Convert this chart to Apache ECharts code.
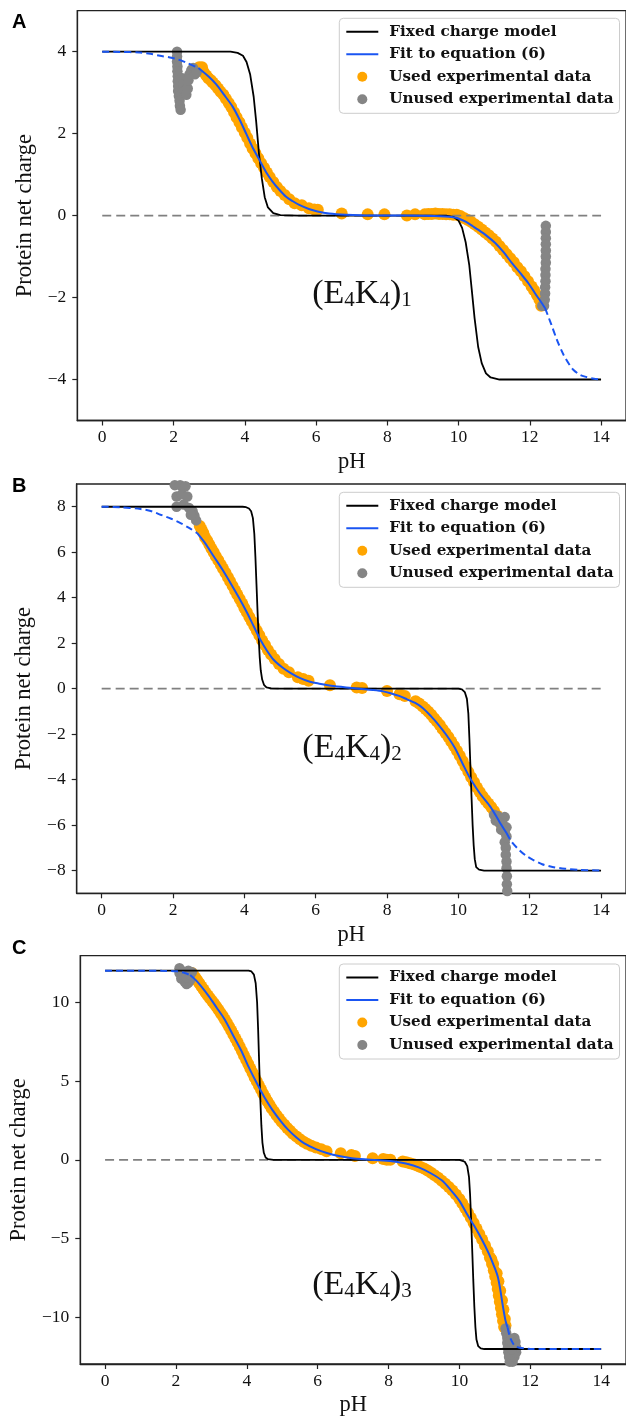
<!DOCTYPE html>
<html><head><meta charset="utf-8">
<script src="https://cdn.jsdelivr.net/npm/echarts@6/dist/echarts.min.js"></script>
<style>html,body{margin:0;padding:0;background:#fff}#c{width:626px;height:1418px}</style>
</head><body><div id="c"></div>
<script>
// ---------------- DATA ----------------
const xTicks = [0, 2, 4, 6, 8, 10, 12, 14];
const yTicksA = [-4, -2, 0, 2, 4];
const yTicksB = [-8, -6, -4, -2, 0, 2, 4, 6, 8];
const yTicksC = [-10, -5, 0, 5, 10];
const legendNames = ['Fixed charge model', 'Fit to equation (6)', 'Used experimental data', 'Unused experimental data'];
const panelLetters = ['A', 'B', 'C'];
const subscripts = ['1', '2', '3'];
const zeroLine = [[0, 0], [14, 0]];

// Panel A: (E4K4)1
const fixedA = [[0,4],[3.6,4],[3.8,3.97],[3.95,3.9],[4.05,3.75],[4.15,3.45],[4.25,2.9],[4.32,2.3],[4.4,1.5],[4.48,0.9],[4.56,0.45],[4.65,0.2],[4.8,0.06],[5.0,0.01],[5.5,0],[9.65,0],[9.85,-0.03],[10.0,-0.12],[10.1,-0.3],[10.2,-0.65],[10.3,-1.2],[10.37,-1.8],[10.45,-2.5],[10.55,-3.2],[10.65,-3.6],[10.77,-3.85],[10.9,-3.95],[11.15,-4],[14,-4]];
const fitSolidA = [[2.7,3.6],[3.0,3.38],[3.2,3.2],[3.4,2.97],[3.66,2.66],[3.85,2.35],[4.04,2.0],[4.2,1.7],[4.41,1.36],[4.6,1.06],[4.78,0.83],[4.97,0.63],[5.16,0.46],[5.35,0.35],[5.53,0.26],[5.8,0.16],[6.04,0.1],[6.37,0.05],[6.83,0.02],[7.5,0.0],[8.5,0.0],[9.3,-0.01],[9.63,-0.02],[9.85,-0.04],[10.0,-0.07],[10.2,-0.15],[10.4,-0.26],[10.56,-0.35],[10.8,-0.5],[11.03,-0.67],[11.27,-0.9],[11.5,-1.16],[11.73,-1.4],[11.96,-1.65],[12.15,-1.9],[12.34,-2.14],[12.43,-2.26]];
const fitDashLA = [[0,4],[0.5,3.995],[1.05,3.98],[1.35,3.95],[1.62,3.9],[1.9,3.86],[2.13,3.81],[2.4,3.72],[2.7,3.6]];
const fitDashRA = [[12.43,-2.26],[12.6,-2.65],[12.77,-3.05],[12.95,-3.4],[13.1,-3.62],[13.22,-3.76],[13.4,-3.88],[13.55,-3.93],[13.8,-3.98],[14,-4.0]];
const usedA = [[2.72,3.62],[2.78,3.55],[2.8,3.62],[2.85,3.5],[2.92,3.42],[2.98,3.35],[3.05,3.3],[3.1,3.25],[3.18,3.18],[3.25,3.1],[3.32,3.02],[3.4,2.95],[3.47,2.85],[3.55,2.75],[3.62,2.65],[3.7,2.52],[3.77,2.4],[3.85,2.28],[3.92,2.15],[4.0,2.02],[4.07,1.9],[4.15,1.76],[4.22,1.64],[4.3,1.52],[4.38,1.4],[4.46,1.28],[4.54,1.17],[4.62,1.05],[4.7,0.94],[4.8,0.82],[4.9,0.7],[5.0,0.6],[5.12,0.5],[5.25,0.4],[5.4,0.3],[5.6,0.25],[5.8,0.18],[5.95,0.15],[6.05,0.14],[6.72,0.05],[7.45,0.03],[7.92,0.03],[8.55,0.0],[8.78,0.03],[9.05,0.03],[9.15,0.04],[9.25,0.04],[9.35,0.05],[9.45,0.04],[9.55,0.04],[9.65,0.03],[9.75,0.03],[9.85,0.02],[9.95,0.02],[10.05,-0.01],[10.15,-0.06],[10.25,-0.1],[10.35,-0.15],[10.45,-0.21],[10.55,-0.27],[10.65,-0.34],[10.75,-0.41],[10.85,-0.48],[10.95,-0.56],[11.05,-0.64],[11.15,-0.74],[11.25,-0.84],[11.35,-0.94],[11.45,-1.04],[11.55,-1.14],[11.65,-1.26],[11.75,-1.36],[11.85,-1.48],[11.95,-1.6],[12.05,-1.73],[12.12,-1.82],[12.2,-1.94],[12.27,-2.05],[12.32,-2.2]];
const unusedA = [[2.1,4.0],[2.1,3.88],[2.1,3.76],[2.11,3.64],[2.11,3.52],[2.12,3.4],[2.12,3.28],[2.13,3.16],[2.13,3.04],[2.15,2.92],[2.17,2.8],[2.18,2.68],[2.2,2.58],[2.25,3.35],[2.28,3.2],[2.32,3.05],[2.36,2.95],[2.4,3.1],[2.42,3.3],[2.45,3.45],[2.5,3.55],[2.55,3.6],[2.6,3.45],[2.65,3.5],[12.45,-0.25],[12.45,-0.4],[12.45,-0.55],[12.45,-0.7],[12.45,-0.85],[12.45,-1.0],[12.45,-1.15],[12.44,-1.3],[12.44,-1.45],[12.44,-1.6],[12.43,-1.75],[12.43,-1.9],[12.42,-2.05],[12.4,-2.2],[12.35,-2.2]];

// Panel B: (E4K4)2
const fixedB = [[0,8],[3.95,8],[4.05,7.98],[4.13,7.92],[4.19,7.8],[4.24,7.5],[4.28,6.8],[4.31,5.8],[4.34,4.6],[4.37,3.4],[4.4,2.3],[4.43,1.4],[4.46,0.8],[4.5,0.4],[4.55,0.17],[4.62,0.06],[4.75,0.01],[5,0],[10.0,0],[10.1,-0.03],[10.18,-0.15],[10.24,-0.45],[10.28,-1.1],[10.31,-2.2],[10.34,-3.5],[10.37,-4.8],[10.4,-6.0],[10.43,-6.9],[10.46,-7.5],[10.5,-7.85],[10.58,-7.96],[10.72,-8],[14,-8]];
const fitSolidB = [[2.68,6.84],[2.9,6.4],[3.14,5.82],[3.38,5.25],[3.61,4.65],[3.85,4.0],[4.08,3.33],[4.27,2.72],[4.45,2.15],[4.63,1.68],[4.82,1.27],[5.05,0.95],[5.29,0.69],[5.55,0.47],[5.84,0.3],[6.1,0.22],[6.5,0.12],[7.22,0.0],[7.6,-0.06],[7.89,-0.12],[8.1,-0.2],[8.34,-0.32],[8.55,-0.46],[8.79,-0.63],[9.0,-0.85],[9.23,-1.21],[9.45,-1.6],[9.68,-2.07],[9.9,-2.6],[10.12,-3.3],[10.35,-4.0],[10.6,-4.6],[10.9,-5.2],[11.15,-5.85],[11.35,-6.35]];
const fitDashLB = [[0,8],[0.5,7.98],[1.09,7.9],[1.4,7.8],[1.65,7.65],[1.95,7.47],[2.21,7.28],[2.45,7.07],[2.68,6.84]];
const fitDashRB = [[11.35,-6.35],[11.5,-6.75],[11.71,-7.1],[11.9,-7.35],[12.08,-7.52],[12.35,-7.72],[12.64,-7.84],[13.0,-7.92],[13.4,-7.97],[14,-8]];
const usedB = [[2.75,7.15],[2.8,7.0],[2.85,6.85],[2.9,6.65],[2.96,6.5],[3.02,6.33],[3.08,6.15],[3.14,6.0],[3.2,5.82],[3.27,5.65],[3.34,5.45],[3.4,5.28],[3.47,5.1],[3.54,4.9],[3.6,4.72],[3.67,4.52],[3.74,4.32],[3.8,4.14],[3.87,3.94],[3.94,3.75],[4.0,3.55],[4.07,3.36],[4.14,3.15],[4.21,2.95],[4.28,2.75],[4.35,2.55],[4.42,2.35],[4.5,2.12],[4.58,1.92],[4.66,1.7],[4.75,1.5],[4.85,1.3],[4.97,1.08],[5.1,0.88],[5.25,0.72],[5.5,0.5],[5.65,0.42],[5.8,0.35],[6.4,0.15],[7.15,0.05],[7.3,0.03],[8.0,-0.1],[8.35,-0.25],[8.5,-0.32],[8.8,-0.55],[8.9,-0.65],[9.0,-0.78],[9.08,-0.9],[9.16,-1.02],[9.24,-1.15],[9.32,-1.3],[9.4,-1.45],[9.48,-1.6],[9.56,-1.78],[9.64,-1.95],[9.72,-2.13],[9.8,-2.32],[9.88,-2.52],[9.96,-2.73],[10.04,-2.95],[10.12,-3.18],[10.2,-3.42],[10.28,-3.66],[10.36,-3.9],[10.44,-4.12],[10.52,-4.35],[10.6,-4.55],[10.68,-4.73],[10.76,-4.9],[10.84,-5.05],[10.92,-5.2],[11.0,-5.38],[11.08,-5.58],[11.15,-5.78],[11.2,-5.95]];
const unusedB = [[2.05,8.95],[2.2,8.95],[2.35,8.9],[2.1,8.45],[2.25,8.55],[2.4,8.45],[2.1,8.0],[2.3,8.1],[2.45,7.95],[2.55,7.8],[2.6,7.6],[2.65,7.4],[2.5,7.65],[11.0,-5.55],[11.1,-5.6],[11.2,-5.7],[11.3,-5.65],[11.05,-5.8],[11.15,-5.9],[11.25,-6.0],[11.35,-6.1],[11.2,-6.2],[11.3,-6.3],[11.35,-6.5],[11.3,-6.75],[11.33,-7.0],[11.33,-7.3],[11.35,-7.6],[11.35,-7.9],[11.36,-8.25],[11.36,-8.6],[11.37,-8.9]];

// Panel C: (E4K4)3
const fixedC = [[0,12],[4.05,12],[4.13,11.95],[4.2,11.75],[4.25,11.2],[4.29,10.0],[4.32,8.2],[4.35,6.0],[4.38,3.9],[4.41,2.2],[4.44,1.1],[4.48,0.45],[4.53,0.15],[4.6,0.04],[4.75,0],[10.0,0],[10.05,-0.02],[10.15,-0.12],[10.22,-0.4],[10.27,-1.1],[10.3,-2.2],[10.33,-3.8],[10.36,-5.7],[10.39,-7.6],[10.42,-9.3],[10.45,-10.6],[10.48,-11.4],[10.53,-11.82],[10.6,-11.96],[10.7,-12],[14,-12]];
const fitSolidC = [[2.4,11.72],[2.6,11.3],[2.93,10.37],[3.15,9.65],[3.38,8.89],[3.6,7.95],[3.83,6.98],[4.05,5.9],[4.28,4.87],[4.5,3.95],[4.72,3.17],[4.95,2.48],[5.17,1.9],[5.4,1.42],[5.61,1.06],[5.95,0.68],[6.28,0.42],[6.6,0.24],[6.96,0.1],[7.4,0.02],[7.85,-0.04],[8.2,-0.12],[8.52,-0.25],[8.85,-0.48],[9.19,-0.85],[9.5,-1.3],[9.75,-1.9],[10.0,-2.6],[10.2,-3.39],[10.42,-4.2],[10.64,-5.08],[10.82,-5.9],[10.98,-6.77],[11.08,-7.4],[11.15,-8.2],[11.22,-9.2],[11.3,-10.2],[11.36,-10.65]];
const fitDashLC = [[0,12],[1.0,12],[1.6,11.99],[2.03,11.96],[2.25,11.85],[2.4,11.72]];
const fitDashRC = [[11.36,-10.65],[11.42,-11.2],[11.5,-11.6],[11.58,-11.82],[11.7,-11.92],[11.9,-11.97],[12.05,-12],[14,-12]];
const usedC = [[2.45,11.85],[2.5,11.7],[2.55,11.55],[2.6,11.4],[2.66,11.2],[2.72,11.0],[2.78,10.8],[2.84,10.6],[2.9,10.42],[2.96,10.25],[3.02,10.08],[3.08,9.9],[3.14,9.72],[3.2,9.52],[3.26,9.32],[3.32,9.12],[3.38,8.9],[3.44,8.68],[3.5,8.45],[3.56,8.2],[3.62,7.95],[3.68,7.7],[3.74,7.44],[3.8,7.18],[3.86,6.9],[3.92,6.62],[3.98,6.35],[4.04,6.08],[4.1,5.8],[4.16,5.52],[4.22,5.24],[4.28,4.98],[4.34,4.72],[4.4,4.46],[4.46,4.2],[4.52,3.95],[4.58,3.72],[4.64,3.5],[4.7,3.28],[4.77,3.05],[4.84,2.83],[4.91,2.62],[4.98,2.42],[5.06,2.22],[5.14,2.02],[5.22,1.84],[5.3,1.66],[5.4,1.48],[5.5,1.3],[5.6,1.15],[5.7,1.02],[5.82,0.9],[5.95,0.78],[6.1,0.68],[6.25,0.55],[6.65,0.42],[6.95,0.3],[7.05,0.25],[7.55,0.1],[7.85,0.05],[7.95,0.0],[8.05,0.0],[8.4,-0.1],[8.5,-0.15],[8.6,-0.22],[8.7,-0.28],[8.8,-0.36],[8.9,-0.45],[9.0,-0.55],[9.1,-0.68],[9.2,-0.82],[9.3,-0.98],[9.4,-1.14],[9.5,-1.32],[9.6,-1.52],[9.7,-1.72],[9.8,-1.95],[9.9,-2.2],[10.0,-2.48],[10.08,-2.75],[10.16,-3.05],[10.24,-3.35],[10.32,-3.68],[10.4,-4.0],[10.48,-4.35],[10.56,-4.7],[10.64,-5.05],[10.72,-5.42],[10.8,-5.8],[10.86,-6.2],[10.9,-6.3],[10.92,-6.6],[10.95,-6.6],[10.97,-7.0],[11.01,-7.4],[11.05,-7.2],[11.05,-7.8],[11.08,-8.2],[11.1,-7.7],[11.11,-8.6],[11.14,-9.0],[11.15,-8.3],[11.17,-9.4],[11.2,-9.8],[11.2,-8.9],[11.23,-10.2],[11.24,-9.5],[11.26,-10.6],[11.28,-10.1],[11.3,-10.5]];
const unusedC = [[2.1,12.15],[2.15,12.0],[2.1,11.85],[2.2,11.7],[2.15,11.5],[2.25,11.3],[2.3,11.15],[2.35,11.25],[2.4,11.4],[2.3,11.6],[2.4,11.75],[2.45,11.9],[2.35,12.0],[11.3,-10.7],[11.32,-11.0],[11.35,-11.3],[11.35,-11.6],[11.37,-11.9],[11.38,-12.2],[11.4,-12.5],[11.42,-12.8],[11.5,-12.8],[11.55,-12.5],[11.6,-12.2],[11.6,-11.9],[11.58,-11.55],[11.55,-11.3],[11.48,-12.0],[11.45,-11.5]];

// annotation anchors (data coords, centre of label)
const annotPos = [[7.29, -1.91], [7.02, -2.61], [7.25, -7.94]];

// ---------------- LAYOUT ----------------
const BLUE = '#1a55f2';
const AX = '#222';
const panels = [
  { grid: {left: 77.3, top: 10.7, width: 550.5, height: 409.8}, yMin: -5, yMax: 5, yTicks: yTicksA, nameGap: 41, legendTop: 18.3,
    fixed: fixedA, solid: fitSolidA, dl: fitDashLA, dr: fitDashRA, used: usedA, unused: unusedA, letterY: 22 },
  { grid: {left: 76.7, top: 484, width: 550.5, height: 409.3}, yMin: -9, yMax: 9, yTicks: yTicksB, nameGap: 41, legendTop: 492.3,
    fixed: fixedB, solid: fitSolidB, dl: fitDashLB, dr: fitDashRB, used: usedB, unused: unusedB, letterY: 486 },
  { grid: {left: 78, top: 955.7, width: 550, height: 408.3}, yMin: -12.95, yMax: 12.95, yTicks: yTicksC, nameGap: 48, legendTop: 964,
    fixed: fixedC, solid: fitSolidC, dl: fitDashLC, dr: fitDashRC, used: usedC, unused: unusedC, letterY: 948 }
];

const fmt = v => (v < 0 ? '\u2212' + (-v) : String(v));
const tickFont = {fontFamily: 'Liberation Serif', fontSize: 17.5, color: '#111'};
const nameFont = {fontFamily: 'Liberation Serif', fontSize: 22.5, color: '#111'};
const hiddenSym = {opacity: 0, color: 'rgba(0,0,0,0)'};
const legendData = [
  {name: legendNames[0], itemStyle: hiddenSym},
  {name: legendNames[1], itemStyle: hiddenSym},
  {name: legendNames[2]},
  {name: legendNames[3]}
];

const grids = [], xAxes = [], yAxes = [], series = [], legends = [];
panels.forEach((p, i) => {
  grids.push(Object.assign({show: true, borderColor: AX, borderWidth: 1.3, backgroundColor: '#fff', containLabel: false}, p.grid));
  xAxes.push({
    type: 'value', gridIndex: i, min: -0.7, max: 14.7,
    name: 'pH', nameLocation: 'middle', nameGap: 30, nameTextStyle: nameFont,
    axisLine: {show: true, onZero: false, lineStyle: {color: AX, width: 1.3}},
    axisTick: {show: true, length: 5, customValues: xTicks, lineStyle: {color: AX, width: 1.2}},
    axisLabel: {customValues: xTicks, formatter: fmt, margin: 8, ...tickFont},
    splitLine: {show: false}
  });
  yAxes.push({
    type: 'value', gridIndex: i, min: p.yMin, max: p.yMax,
    name: 'Protein net charge', nameLocation: 'middle', nameGap: p.nameGap, nameTextStyle: nameFont,
    axisLine: {show: true, onZero: false, lineStyle: {color: AX, width: 1.3}},
    axisTick: {show: true, length: 5, customValues: p.yTicks, lineStyle: {color: AX, width: 1.2}},
    axisLabel: {customValues: p.yTicks, formatter: fmt, margin: 11, ...tickFont},
    splitLine: {show: false}
  });
  const common = {xAxisIndex: i, yAxisIndex: i, animation: false, silent: true};
  series.push(
    Object.assign({type: 'scatter', name: 'Used experimental data', data: p.used, symbolSize: 12, itemStyle: {color: '#ffa500', opacity: 1}, z: 1}, common),
    Object.assign({type: 'scatter', name: 'Unused experimental data', data: p.unused, symbolSize: 10.5, itemStyle: {color: '#858585', opacity: 1}, z: 1}, common),
    Object.assign({type: 'line', name: 'zero', data: zeroLine, symbol: 'none', lineStyle: {color: '#808080', width: 1.8, type: [9, 5]}, z: 2}, common),
    Object.assign({type: 'line', name: 'Fixed charge model', data: p.fixed, symbol: 'none', itemStyle: {color: '#000'}, lineStyle: {color: '#000', width: 1.8}, z: 3}, common),
    Object.assign({type: 'line', name: 'Fit to equation (6)', data: p.solid, symbol: 'none', smooth: 0.3, itemStyle: {color: BLUE}, lineStyle: {color: BLUE, width: 2}, z: 4}, common),
    Object.assign({type: 'line', name: 'fit extrapolation', data: p.dl, symbol: 'none', smooth: 0.3, lineStyle: {color: BLUE, width: 2, type: [7, 4]}, z: 4}, common),
    Object.assign({type: 'line', name: 'fit extrapolation', data: p.dr, symbol: 'none', smooth: 0.3, lineStyle: {color: BLUE, width: 2, type: [7, 4]}, z: 4}, common)
  );
  legends.push({
    show: true, orient: 'vertical', left: 339.3, top: p.legendTop, z: 10,
    data: legendData, selectedMode: false,
    itemWidth: 32, itemHeight: 10, itemGap: 6.5, padding: [5.5, 6, 6, 6],
    backgroundColor: 'rgba(255,255,255,0.85)', borderColor: '#cccccc', borderWidth: 1, borderRadius: 4,
    textStyle: {fontFamily: 'DejaVu Serif', fontWeight: 'bold', fontSize: 15.2, color: '#111', lineHeight: 16, padding: [0, 0, 0, 6]}
  });
});

const chart = echarts.init(document.getElementById('c'), null, {renderer: 'canvas'});
chart.setOption({
  animation: false,
  backgroundColor: '#fff',
  grid: grids, xAxis: xAxes, yAxis: yAxes, series: series, legend: legends
});

// annotations and panel letters
const graphics = [];
panels.forEach((p, i) => {
  const pt = chart.convertToPixel({gridIndex: i}, annotPos[i]);
  graphics.push({
    type: 'text', x: pt[0], y: pt[1], z: 20,
    style: {
      text: '{a|(E}{b|4}{a|K}{b|4}{a|)}{b|' + subscripts[i] + '}',
      align: 'center', verticalAlign: 'middle',
      rich: {
        a: {fontFamily: 'Liberation Serif', fontSize: 34, lineHeight: 34, verticalAlign: 'bottom', fill: '#111'},
        b: {fontFamily: 'Liberation Serif', fontSize: 21, lineHeight: 16, verticalAlign: 'bottom', fill: '#111'}
      }
    }
  });
  graphics.push({
    type: 'text', x: 12, y: p.letterY, z: 20,
    style: {text: panelLetters[i], fontFamily: 'Liberation Sans', fontWeight: 'bold', fontSize: 20, fill: '#000', align: 'left', verticalAlign: 'middle'}
  });
});
chart.setOption({graphic: graphics});
</script></body></html>
